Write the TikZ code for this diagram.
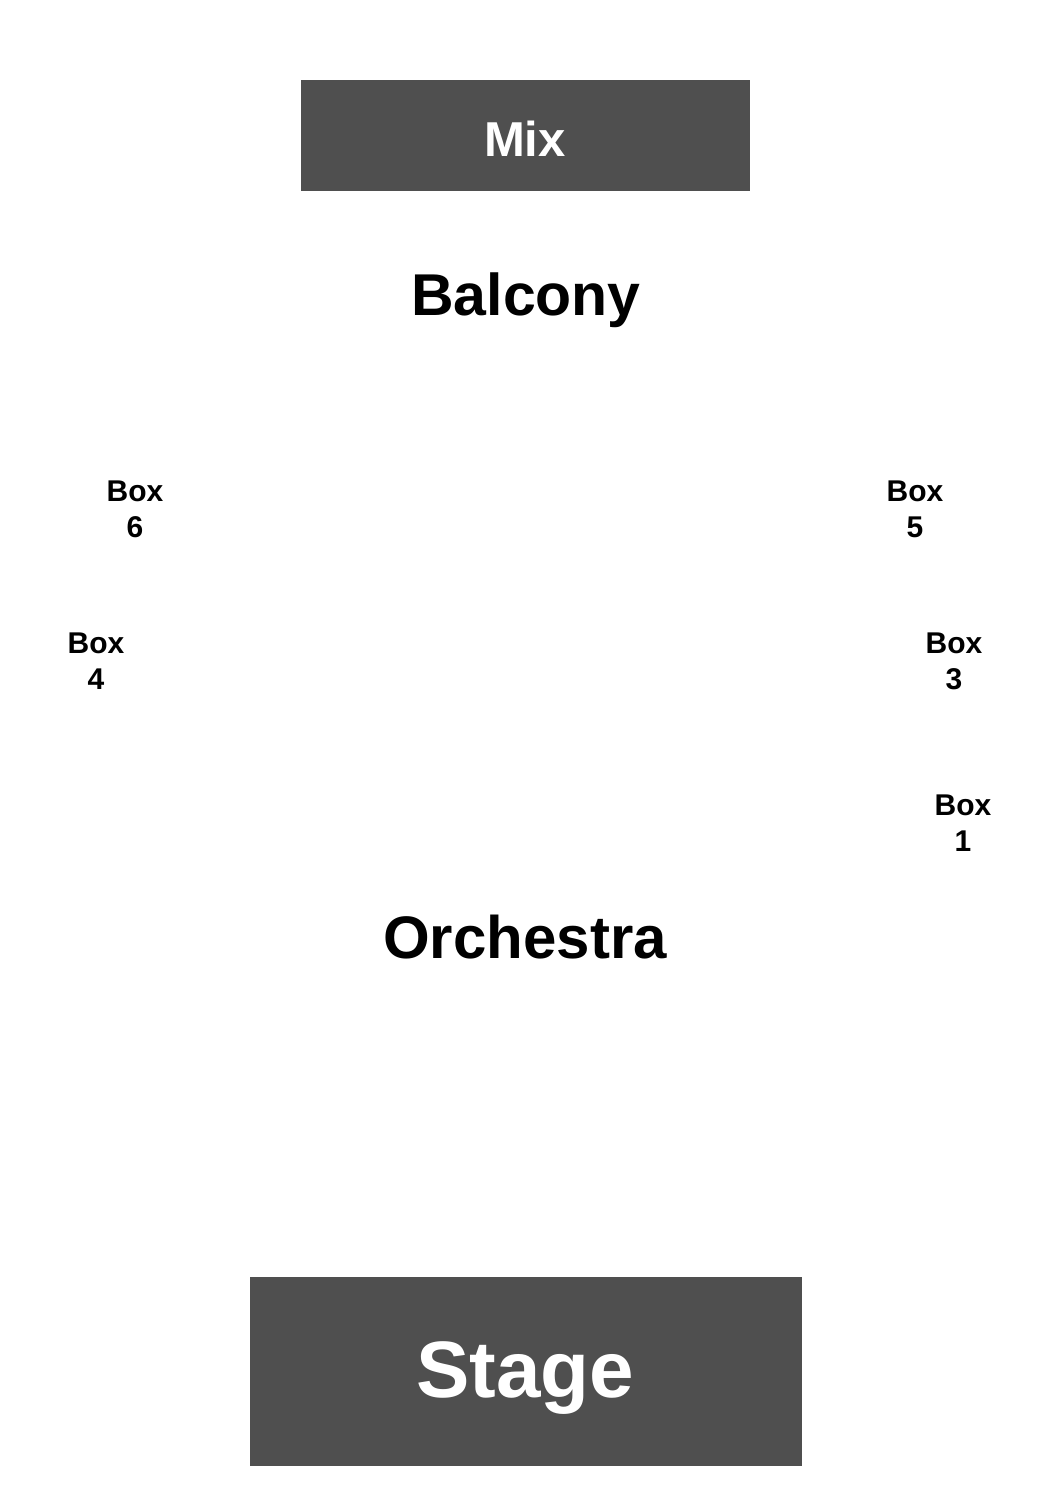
\documentclass[tikz,border=0pt]{standalone}
\usepackage{fontspec}
\setmainfont{Liberation Sans}
\definecolor{blockgray}{HTML}{4F4F4F}
\begin{document}
\begin{tikzpicture}[x=1pt,y=-1pt,
  block/.style={fill=blockgray,draw=none},
  bigtxt/.style={font=\fontsize{59}{70}\selectfont\bfseries,inner sep=0pt,anchor=base},
  boxlbl/.style={font=\fontsize{30}{36}\selectfont\bfseries,align=center,inner sep=0pt}
]
\useasboundingbox[fill=white] (0,0) rectangle (1050,1500);
\fill[block] (301,80) rectangle (750,191);
\node[bigtxt,text=white,font=\fontsize{49}{58}\selectfont\bfseries] (mix) at (525,156) {Mix};
\node[bigtxt] (balcony) at (526,315) {Balcony};
\node[boxlbl] (box6) at (135,509) {Box\\6};
\node[boxlbl] (box5) at (915,509) {Box\\5};
\node[boxlbl] (box4) at (96,661) {Box\\4};
\node[boxlbl] (box3) at (954,661) {Box\\3};
\node[boxlbl] (box1) at (963,823) {Box\\1};
\node[bigtxt,font=\fontsize{60}{70}\selectfont\bfseries] (orchestra) at (525,958) {Orchestra};
\fill[block] (250,1277) rectangle (802,1466);
\node[bigtxt,text=white,font=\fontsize{80}{90}\selectfont\bfseries] (stage) at (525,1397) {Stage};
\end{tikzpicture}
\end{document}
